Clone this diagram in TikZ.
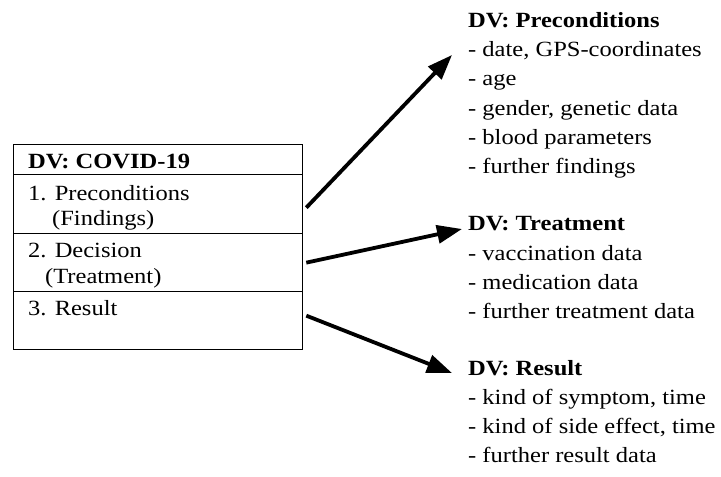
\documentclass[tikz,border=0pt]{standalone}
\usepackage{fontspec}
\setmainfont{Liberation Serif}[FakeStretch=1.13]
\usetikzlibrary{arrows.meta}
\begin{document}
\begin{tikzpicture}[x=1pt,y=-1pt,
  txt/.style={anchor=base west, inner sep=0pt, font=\fontsize{21.7}{29}\selectfont},
  hdtxt/.style={txt, font=\fontsize{21.7}{29}\selectfont\bfseries},
  row/.style={draw, line width=1.3pt, anchor=north west, inner sep=0pt, minimum width=289pt},
  arr/.style={line width=3.8pt, -{Triangle[length=25pt,width=18pt]}}]
\useasboundingbox[fill=white] (0,0) rectangle (721,477);
% left table
\node[row, minimum height=30pt] (hd) at (13,144) {};
\node[row, minimum height=59pt] (r1) at (13,174) {};
\node[row, minimum height=58pt] (r2) at (13,233) {};
\node[row, minimum height=58pt] (r3) at (13,291) {};
\node[hdtxt] (hdt) at (28,168) {DV: COVID-19};
\node[txt] (r1a) at (28,200) {1. Preconditions};
\node[txt] (r1b) at (52,225) {(Findings)};
\node[txt] (r2a) at (28,257) {2. Decision};
\node[txt] (r2b) at (45,283) {(Treatment)};
\node[txt] (r3a) at (28,315) {3. Result};
% right groups
\node[hdtxt] (pre) at (468,27) {DV: Preconditions};
\node[txt] (pre1) at (468,56) {- date, GPS-coordinates};
\node[txt] (pre2) at (468,85) {- age};
\node[txt] (pre3) at (468,115) {- gender, genetic data};
\node[txt] (pre4) at (468,144) {- blood parameters};
\node[txt] (pre5) at (468,173) {- further findings};
\node[hdtxt] (trt) at (468,230) {DV: Treatment};
\node[txt] (trt1) at (468,260) {- vaccination data};
\node[txt] (trt2) at (468,289) {- medication data};
\node[txt] (trt3) at (468,318) {- further treatment data};
\node[hdtxt] (res) at (468,375) {DV: Result};
\node[txt] (res1) at (468,404) {- kind of symptom, time};
\node[txt] (res2) at (468,433) {- kind of side effect, time};
\node[txt] (res3) at (468,462) {- further result data};
% arrows
\draw[arr] ([shift={(3,3.5)}]r1.east) -- ([shift={(-16,28)}]pre.base west);
\draw[arr] ([shift={(3,0)}]r2.east) -- ([shift={(-6,-1)}]trt.base west);
\draw[arr] ([shift={(3,-5)}]r3.east) -- ([shift={(-16,-2)}]res.base west);
\end{tikzpicture}
\end{document}
